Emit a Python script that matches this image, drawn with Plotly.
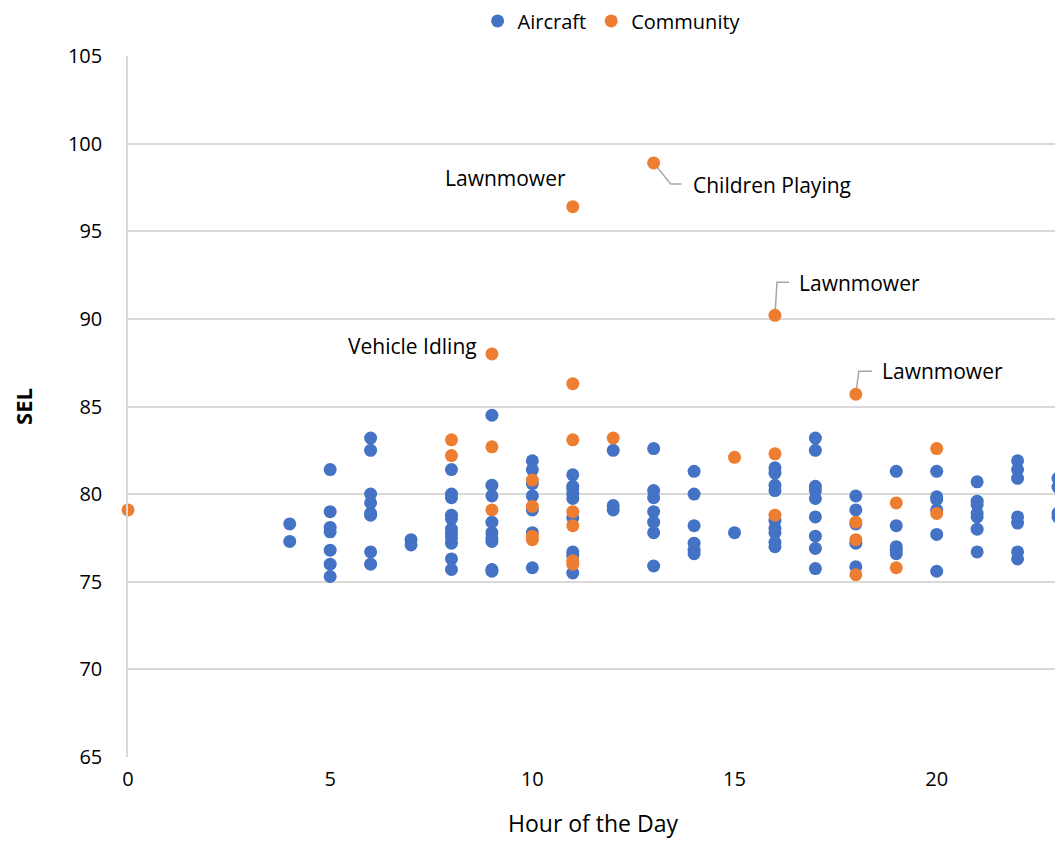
import plotly.graph_objects as go

# ---- data ----
aircraft = {
    4: [78.3, 77.3],
    5: [81.4, 79.0, 78.1, 77.85, 76.8, 76.0, 75.3],
    6: [83.2, 82.5, 80.0, 79.5, 78.9, 78.8, 76.7, 76.0],
    7: [77.4, 77.1],
    8: [81.4, 80.0, 79.8, 78.8, 78.6, 78.0, 77.75, 77.5, 77.2, 76.3, 75.7],
    9: [84.5, 80.5, 79.9, 78.4, 77.8, 77.5, 77.3, 75.7, 75.6],
    10: [81.9, 81.4, 80.6, 79.9, 79.1, 77.8, 75.8],
    11: [81.1, 80.45, 80.3, 80.0, 79.75, 78.65, 76.7, 76.5, 75.5],
    12: [82.5, 79.35, 79.1],
    13: [82.6, 80.2, 79.8, 79.0, 78.4, 77.8, 75.9],
    14: [81.3, 80.0, 78.2, 77.2, 76.8, 76.6],
    15: [77.8],
    16: [81.5, 81.2, 80.5, 80.2, 78.5, 78.05, 77.8, 77.25, 77.0],
    17: [83.2, 82.5, 80.45, 80.2, 79.75, 78.7, 77.6, 76.9, 75.75],
    18: [79.9, 79.1, 78.3, 77.2, 75.85],
    19: [81.3, 78.2, 77.0, 76.8, 76.6],
    20: [81.3, 79.85, 79.7, 79.1, 77.7, 75.6],
    21: [80.7, 79.6, 79.4, 78.9, 78.7, 78.0, 76.7],
    22: [81.9, 81.4, 80.9, 78.7, 78.35, 76.7, 76.3],
    23: [80.9, 80.4, 78.9, 78.7],
}
community = {
    0: [79.1],
    8: [83.1, 82.2],
    9: [88.0, 82.7, 79.1],
    10: [80.8, 79.3, 77.6, 77.4],
    11: [96.4, 86.3, 83.1, 79.0, 78.2, 76.2, 76.0],
    12: [83.2],
    13: [98.9],
    15: [82.1],
    16: [90.2, 82.3, 78.8],
    18: [85.7, 78.4, 77.4, 75.4],
    19: [79.5, 75.8],
    20: [82.6, 78.9],
}
label_x = [11, 13, 16, 18, 9]
label_y = [96.4, 98.9, 90.2, 85.7, 88.0]
label_text = ["Lawnmower", "Children Playing", "Lawnmower", "Lawnmower", "Vehicle Idling"]

ax_x = [h for h, vals in aircraft.items() for _ in vals]
ax_y = [v for vals in aircraft.values() for v in vals]
cm_x = [h for h, vals in community.items() for _ in vals]
cm_y = [v for vals in community.values() for v in vals]

BLUE = "#4472C4"
ORANGE = "#ED7D31"
FONT = "Open Sans"

fig = go.Figure()
fig.add_trace(go.Scatter(x=ax_x, y=ax_y, mode="markers", name="Aircraft", cliponaxis=False,
                         marker=dict(color=BLUE, size=13)))
fig.add_trace(go.Scatter(x=cm_x, y=cm_y, mode="markers", name="Community", cliponaxis=False,
                         marker=dict(color=ORANGE, size=13)))

# label placement (pixel offsets) and leader paths
label_style = [
    dict(xshift=-5, yshift=29, xanchor="right", path=None),
    dict(xshift=37, yshift=-22, xanchor="left", path="M0,0 L17,-21 L28,-21"),
    dict(xshift=22, yshift=32, xanchor="left", path="M0,0 L2,33 L14,33"),
    dict(xshift=24, yshift=23, xanchor="left", path="M0,0 L3,23 L16,23"),
    dict(xshift=-13, yshift=8, xanchor="right", path=None),
]
for lx, ly, lt, st in zip(label_x, label_y, label_text, label_style):
    fig.add_annotation(x=lx, y=ly, xref="x", yref="y", text=lt, showarrow=False,
                       xshift=st["xshift"], yshift=st["yshift"], xanchor=st["xanchor"],
                       yanchor="middle", font=dict(family=FONT, size=21, color="#000000"))
    if st["path"]:
        fig.add_shape(type="path", xref="x", yref="y", xsizemode="pixel", ysizemode="pixel",
                      xanchor=lx, yanchor=ly, path=st["path"], layer="below",
                      line=dict(color="#A6A6A6", width=1.5))

# page body has an 8px margin, so the figure is sized/offset to compensate
fig.update_layout(
    width=1055, height=843,
    margin=dict(l=120, r=5, t=48, b=94, autoexpand=False),
    paper_bgcolor="white", plot_bgcolor="white",
    font=dict(family=FONT, size=20, color="#000000"),
    showlegend=True,
    legend=dict(orientation="h", x=0.52, xanchor="center", y=1.05, yanchor="middle",
                font=dict(family=FONT, size=20), itemwidth=30, tracegroupgap=0,
                bgcolor="rgba(0,0,0,0)"),
)
fig.update_xaxes(range=[0, 23], tick0=0, dtick=5, showgrid=False, zeroline=False,
                 showline=False, ticks="", ticklabelstandoff=8,
                 title=dict(text="Hour of the Day", font=dict(family=FONT, size=23), standoff=24))
fig.update_yaxes(range=[65, 105], tick0=65, dtick=5, showgrid=True, gridcolor="#D9D9D9",
                 gridwidth=1.5, zeroline=False, showline=True, linecolor="#D9D9D9", linewidth=1.5,
                 ticks="", ticklabelstandoff=20,
                 title=dict(text="<b>SEL</b>", font=dict(family=FONT, size=22), standoff=34))

fig.write_html("out.html")
